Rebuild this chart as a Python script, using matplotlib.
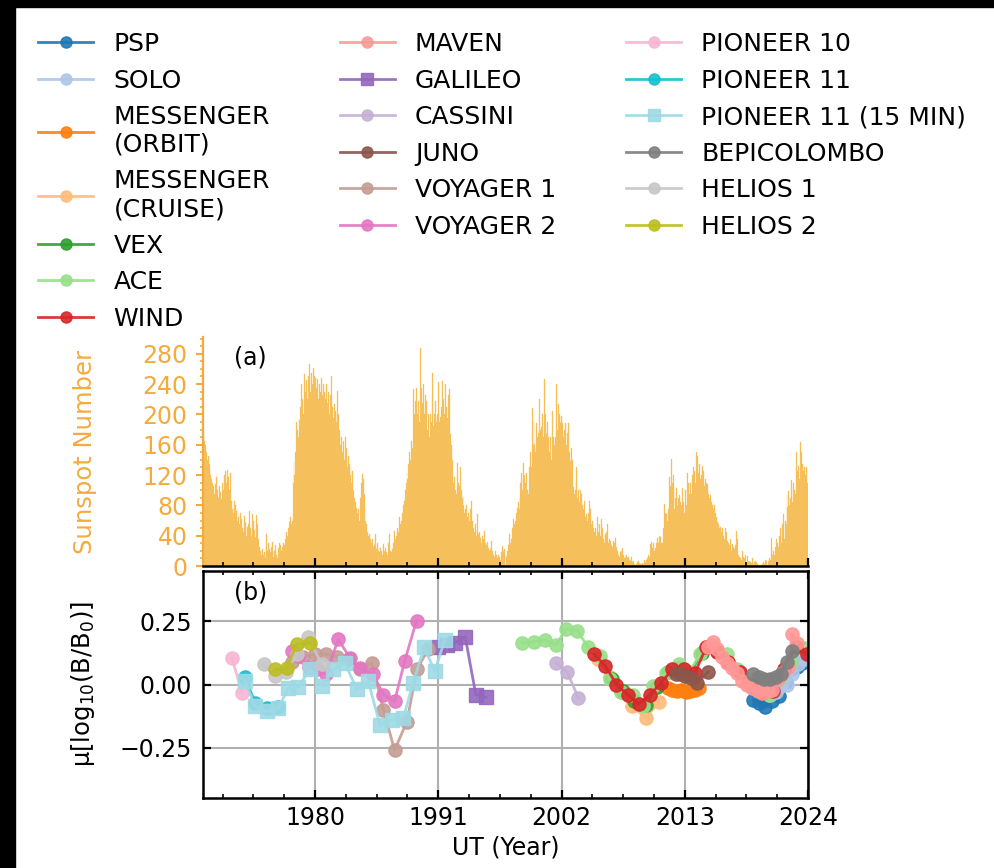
import matplotlib

matplotlib.use("Agg")
import matplotlib.pyplot as plt
import numpy as np
from matplotlib.lines import Line2D
from matplotlib.patches import Rectangle
from matplotlib.ticker import FixedLocator, MultipleLocator

# monthly sunspot number, one row per year from 1970 to 2023
SSN_FIRST_YEAR = 1970
SSN_MONTHLY = [
    [178, 165, 160, 150, 140, 145, 135, 128, 120, 115, 110, 105],
    [95, 108, 117, 100, 90, 105, 98, 88, 110, 100, 92, 120],
    [125, 110, 127, 118, 100, 122, 86, 75, 70, 86, 80, 72],
    [60, 77, 65, 55, 70, 62, 50, 45, 66, 58, 40, 52],
    [55, 73, 50, 40, 45, 68, 60, 48, 38, 67, 55, 35],
    [25, 20, 15, 22, 14, 18, 10, 25, 42, 20, 30, 22],
    [18, 25, 31, 12, 20, 28, 15, 10, 24, 30, 20, 28],
    [20, 25, 30, 28, 35, 45, 40, 50, 58, 64, 55, 60],
    [110, 138, 120, 150, 190, 180, 170, 192, 210, 240, 220, 200],
    [253, 230, 245, 220, 250, 240, 267, 230, 255, 240, 261, 250],
    [248, 235, 246, 220, 240, 230, 248, 225, 210, 240, 230, 220],
    [240, 215, 230, 200, 225, 250, 210, 195, 214, 205, 190, 200],
    [231, 200, 180, 160, 170, 150, 165, 140, 170, 155, 130, 145],
    [134, 120, 130, 110, 125, 100, 90, 85, 77, 70, 75, 60],
    [90, 110, 121, 115, 95, 80, 59, 55, 45, 40, 42, 35],
    [30, 35, 25, 28, 42, 22, 30, 20, 25, 18, 24, 20],
    [15, 29, 20, 24, 18, 15, 30, 42, 20, 18, 22, 25],
    [30, 46, 35, 40, 50, 45, 64, 55, 60, 70, 80, 86],
    [100, 110, 123, 115, 135, 150, 140, 165, 155, 233, 200, 218],
    [235, 200, 218, 190, 287, 210, 235, 215, 240, 200, 225, 218],
    [180, 200, 170, 200, 190, 255, 185, 200, 170, 218, 190, 200],
    [242, 190, 196, 210, 244, 220, 200, 240, 210, 195, 225, 200],
    [233, 174, 160, 140, 110, 117, 100, 95, 136, 110, 105, 130],
    [100, 90, 94, 80, 70, 75, 81, 65, 70, 60, 75, 86],
    [60, 50, 45, 55, 40, 48, 68, 42, 45, 37, 30, 40],
    [35, 46, 30, 28, 32, 24, 20, 22, 25, 33, 20, 15],
    [12, 20, 15, 10, 15, 12, 8, 18, 26, 20, 22, 16],
    [15, 12, 20, 28, 42, 30, 35, 50, 62, 55, 60, 70],
    [77, 84, 75, 90, 110, 123, 100, 136, 120, 110, 123, 100],
    [95, 130, 150, 130, 209, 160, 191, 161, 150, 189, 170, 175],
    [220, 180, 183, 200, 170, 247, 200, 174, 190, 157, 170, 150],
    [170, 140, 204, 170, 160, 170, 240, 180, 214, 200, 190, 198],
    [198, 189, 170, 180, 189, 160, 175, 189, 150, 138, 155, 140],
    [104, 95, 100, 110, 130, 90, 100, 85, 100, 95, 80, 75],
    [86, 65, 68, 60, 70, 86, 65, 75, 55, 60, 50, 45],
    [50, 40, 64, 45, 55, 40, 62, 50, 35, 40, 30, 42],
    [45, 55, 30, 35, 33, 28, 25, 33, 30, 37, 25, 20],
    [20, 15, 12, 18, 20, 24, 15, 10, 12, 15, 10, 12],
    [8, 6, 12, 8, 5, 6, 2, 1, 3, 5, 6, 4],
    [3, 2, 4, 2, 8, 5, 6, 8, 10, 15, 12, 29],
    [31, 24, 30, 20, 24, 30, 37, 30, 40, 35, 38, 30],
    [30, 50, 82, 70, 68, 60, 75, 117, 105, 141, 110, 120],
    [101, 75, 90, 103, 80, 90, 93, 85, 80, 103, 85, 70],
    [100, 80, 123, 95, 110, 95, 110, 95, 120, 130, 125, 110],
    [150, 145, 123, 135, 115, 120, 110, 132, 125, 105, 115, 110],
    [108, 95, 90, 93, 85, 80, 75, 80, 70, 65, 60, 58],
    [55, 50, 52, 45, 50, 40, 35, 50, 45, 33, 30, 28],
    [35, 30, 20, 29, 25, 22, 28, 46, 35, 15, 12, 10],
    [8, 20, 12, 10, 11, 15, 3, 13, 5, 6, 5, 4],
    [11, 3, 5, 6, 5, 2, 1, 1, 1, 1, 1, 2],
    [5, 3, 8, 6, 1, 6, 11, 8, 37, 15, 24, 20],
    [15, 25, 35, 30, 25, 40, 50, 30, 55, 68, 35, 60],
    [55, 94, 78, 99, 80, 90, 114, 85, 110, 100, 95, 150],
    [125, 132, 115, 163, 140, 150, 134, 125, 130, 120, 130, 110],
]

# mean log10(B/B0) per mission
PSP_T = [2019.1, 2019.6, 2020.2, 2020.8, 2021.4, 2022.0, 2022.5, 2023.0, 2023.5, 2023.9]
PSP_MU = [-0.06, -0.075, -0.09, -0.065, -0.045, 0.01, 0.06, 0.07, 0.085, 0.1]
SOLO_T = [2020.6, 2021.1, 2021.6, 2022.1, 2022.6, 2023.1, 2023.6]
SOLO_MU = [-0.04, -0.03, -0.005, 0.0, 0.04, 0.08, 0.1]
MESS_ORBIT_T = [2011.5, 2011.9, 2012.3, 2012.7, 2013.1, 2013.5, 2013.9, 2014.3]
MESS_ORBIT_MU = [-0.015, -0.02, -0.025, -0.02, -0.03, -0.025, -0.02, -0.015]
MESS_CRUISE_T = [2005.3, 2006.3, 2007.3, 2008.3, 2009.5, 2010.7]
MESS_CRUISE_MU = [0.1, 0.03, -0.03, -0.085, -0.133, -0.07]
VEX_T = [2006.5, 2007.5, 2008.5, 2009.5, 2010.5, 2011.5, 2012.5, 2013.5, 2014.5]
VEX_MU = [0.02, -0.025, -0.065, -0.08, -0.01, 0.05, 0.065, 0.045, 0.125]
ACE_T = [1998.5, 1999.5, 2000.5, 2001.5, 2002.4, 2003.4, 2004.4, 2005.4, 2006.3,
         2007.3, 2008.4, 2009.3, 2010.2, 2011.3, 2012.5, 2013.4, 2014.4, 2015.4,
         2016.8, 2017.7, 2018.6, 2019.5, 2020.5, 2021.4, 2022.5, 2023.6]
ACE_MU = [0.164, 0.169, 0.178, 0.156, 0.22, 0.213, 0.147, 0.113, 0.02,
          -0.03, -0.04, -0.087, -0.007, 0.046, 0.08, 0.05, 0.12, 0.155,
          0.12, 0.06, 0.01, -0.015, -0.04, 0.02, 0.09, 0.145]
WIND_T = [2004.9, 2005.9, 2006.9, 2007.9, 2008.9, 2009.9, 2010.9, 2011.9, 2012.9, 2013.9,
          2014.9, 2015.9, 2016.9, 2017.9, 2018.9, 2019.9, 2020.9, 2021.9, 2022.9, 2023.9]
WIND_MU = [0.12, 0.075, 0.0, -0.04, -0.078, -0.04, 0.007, 0.06, 0.06, 0.045,
           0.147, 0.13, 0.09, 0.05, 0.0, -0.035, -0.025, 0.06, 0.15, 0.12]
MAVEN_T = [2015.1, 2015.5, 2015.9, 2016.3, 2016.8, 2017.2, 2017.7, 2018.1, 2018.6, 2019.0,
           2019.5, 2019.9, 2020.4, 2020.8, 2021.3, 2021.7, 2022.2, 2022.6, 2023.0]
MAVEN_MU = [0.15, 0.17, 0.14, 0.11, 0.087, 0.065, 0.046, 0.015, 0.0, -0.015,
            -0.027, -0.033, -0.027, -0.02, 0.02, 0.045, 0.07, 0.2, 0.165]
GALILEO_T = [1991.0, 1991.8, 1992.5, 1993.4, 1994.35, 1995.25]
GALILEO_MU = [0.15, 0.155, 0.165, 0.19, -0.04, -0.05]
CASSINI_T = [2001.5, 2002.5, 2003.5]
CASSINI_MU = [0.086, 0.05, -0.053]
JUNO_T = [2012.2, 2012.6, 2013.05, 2013.6, 2014.1, 2015.1]
JUNO_MU = [0.04, 0.04, 0.033, 0.027, 0.007, 0.05]
VOYAGER1_T = [1977.9, 1978.9, 1980.0, 1981.0, 1982.0, 1983.0, 1984.0, 1985.05, 1986.1,
              1987.1, 1988.2, 1989.1, 1990.1]
VOYAGER1_MU = [0.09, 0.11, 0.12, 0.12, 0.11, 0.1, 0.06, 0.086, -0.1,
               -0.26, -0.147, 0.06, 0.14]
VOYAGER2_T = [1977.9, 1978.5, 1979.5, 1980.2, 1981.0, 1982.07, 1983.1, 1984.0, 1985.2,
              1986.1, 1987.1, 1988.0, 1989.06]
VOYAGER2_MU = [0.133, 0.113, 0.07, 0.06, 0.04, 0.18, 0.106, 0.066, 0.04,
               -0.04, -0.067, 0.093, 0.253]
PIONEER10_T = [1972.57, 1973.5]
PIONEER10_MU = [0.106, -0.035]
PIONEER11_T = [1973.76, 1974.65, 1975.69, 1976.73]
PIONEER11_MU = [0.03, -0.075, -0.095, -0.09]
PIONEER11_15_T = [1973.76, 1974.65, 1975.69, 1976.73, 1977.62, 1978.51, 1979.55, 1980.65,
                  1981.63, 1982.67, 1983.71, 1984.75, 1985.79, 1986.83, 1987.87, 1988.76,
                  1989.74, 1990.69, 1991.58]
PIONEER11_15_MU = [0.013, -0.087, -0.107, -0.094, -0.013, -0.01, 0.06, -0.006,
                   0.06, 0.084, -0.017, 0.013, -0.16, -0.14, -0.133, 0.007,
                   0.147, 0.053, 0.177]
BEPI_T = [2019.1, 2019.6, 2020.1, 2020.6, 2021.1, 2021.6, 2022.1, 2022.6]
BEPI_MU = [0.04, 0.03, 0.02, 0.02, 0.03, 0.04, 0.09, 0.133]
HELIOS1_T = [1975.4, 1976.4, 1977.4, 1978.4, 1979.4, 1980.6]
HELIOS1_MU = [0.08, 0.035, 0.05, 0.12, 0.187, 0.08]
HELIOS2_T = [1976.43, 1977.47, 1978.36, 1979.55]
HELIOS2_MU = [0.06, 0.066, 0.16, 0.164]

# tab20 slots used for each mission, in legend order
TAB20_SLOTS = [0, 1, 2, 3, 4, 5, 6, 7, 8, 9, 10, 11, 12, 13, 18, 19, 14, 15, 16]

YEAR_TICKS = [1980, 1991, 2002, 2013, 2024]

SUN_FILL = "#f5b94a"
SUN_TEXT = "#f5ab3c"


def main() -> None:
    plt.rcParams["font.family"] = "DejaVu Sans"

    ssn = np.array(SSN_MONTHLY, dtype=float).ravel()
    ssn_t = SSN_FIRST_YEAR + (np.arange(ssn.size) + 0.5) / 12.0

    series = [
        ("PSP", PSP_T, PSP_MU, "o"),
        ("SOLO", SOLO_T, SOLO_MU, "o"),
        ("MESSENGER\n(ORBIT)", MESS_ORBIT_T, MESS_ORBIT_MU, "o"),
        ("MESSENGER\n(CRUISE)", MESS_CRUISE_T, MESS_CRUISE_MU, "o"),
        ("VEX", VEX_T, VEX_MU, "o"),
        ("ACE", ACE_T, ACE_MU, "o"),
        ("WIND", WIND_T, WIND_MU, "o"),
        ("MAVEN", MAVEN_T, MAVEN_MU, "o"),
        ("GALILEO", GALILEO_T, GALILEO_MU, "s"),
        ("CASSINI", CASSINI_T, CASSINI_MU, "o"),
        ("JUNO", JUNO_T, JUNO_MU, "o"),
        ("VOYAGER 1", VOYAGER1_T, VOYAGER1_MU, "o"),
        ("VOYAGER 2", VOYAGER2_T, VOYAGER2_MU, "o"),
        ("PIONEER 10", PIONEER10_T, PIONEER10_MU, "o"),
        ("PIONEER 11", PIONEER11_T, PIONEER11_MU, "o"),
        ("PIONEER 11 (15 MIN)", PIONEER11_15_T, PIONEER11_15_MU, "s"),
        ("BEPICOLOMBO", BEPI_T, BEPI_MU, "o"),
        ("HELIOS 1", HELIOS1_T, HELIOS1_MU, "o"),
        ("HELIOS 2", HELIOS2_T, HELIOS2_MU, "o"),
    ]
    colors = [plt.cm.tab20(i) for i in TAB20_SLOTS]

    fig = plt.figure(figsize=(9.95, 8.68), dpi=100)
    W, H = 995.0, 868.0
    ax_a = fig.add_axes([203 / W, (H - 566) / H, 605 / W, 229 / H])
    ax_b = fig.add_axes([203 / W, (H - 798) / H, 605 / W, 227 / H])

    # (a) sunspot number
    ax_a.bar(ssn_t, ssn, width=1.0 / 12.0, color=SUN_FILL, edgecolor="#f7c872",
             linewidth=0.25)
    ax_a.set_xlim(1970, 2024)
    ax_a.set_ylim(0, 302)
    ax_a.spines["top"].set_visible(False)
    ax_a.spines["right"].set_visible(False)
    ax_a.spines["left"].set_color(SUN_TEXT)
    ax_a.spines["left"].set_linewidth(1.6)
    ax_a.spines["bottom"].set_linewidth(1.8)
    ax_a.yaxis.set_major_locator(MultipleLocator(40))
    ax_a.yaxis.set_minor_locator(MultipleLocator(10))
    ax_a.xaxis.set_major_locator(FixedLocator(YEAR_TICKS))
    ax_a.xaxis.set_minor_locator(MultipleLocator(2.75))
    ax_a.tick_params(axis="y", which="both", colors=SUN_TEXT, labelsize=17, pad=6)
    ax_a.tick_params(axis="y", which="major", length=5, width=1.5)
    ax_a.tick_params(axis="y", which="minor", length=2.5, width=1.2)
    ax_a.tick_params(axis="x", which="both", direction="in", labelbottom=False)
    ax_a.tick_params(axis="x", which="major", length=6, width=1.6)
    ax_a.tick_params(axis="x", which="minor", length=3, width=1.2)
    ax_a.set_ylabel("Sunspot Number", color=SUN_TEXT, fontsize=17.5)
    ax_a.yaxis.set_label_coords(-0.175, 0.5)
    ax_a.text(0.078, 0.91, "(a)", transform=ax_a.transAxes, fontsize=17,
              ha="center", va="center")

    # (b) mean field strength per mission
    handles = []
    for (label, t, mu, marker), color in zip(series, colors):
        ax_b.plot(t, mu, marker=marker, color=color, ms=9.5, lw=2.0, alpha=0.9)
        handles.append(Line2D([0], [0], marker=marker, color=color, ms=8, lw=2.0,
                              alpha=0.9, label=label))

    ax_b.set_xlim(1970, 2024)
    ax_b.set_ylim(-0.45, 0.45)
    ax_b.xaxis.set_major_locator(FixedLocator(YEAR_TICKS))
    ax_b.xaxis.set_minor_locator(MultipleLocator(2.75))
    ax_b.yaxis.set_major_locator(FixedLocator([-0.25, 0.0, 0.25]))
    ax_b.yaxis.set_major_formatter(plt.FuncFormatter(lambda v, _: f"{v:.2f}".replace("-", "\u2212")))
    ax_b.grid(True, which="major", color="#b0b0b0", lw=1.5)
    ax_b.set_axisbelow(True)
    for spine in ax_b.spines.values():
        spine.set_linewidth(1.8)
    ax_b.tick_params(which="both", direction="in", top=True, right=True, labelsize=17)
    ax_b.tick_params(which="major", length=5.5, width=1.6)
    ax_b.tick_params(which="minor", length=3, width=1.2)
    ax_b.tick_params(axis="y", pad=8)
    ax_b.tick_params(axis="x", pad=6)
    ax_b.set_xlabel("UT (Year)", fontsize=17)
    ax_b.set_ylabel(r"μ[log$_{10}$(B/B$_0$)]", fontsize=17.5)
    ax_b.yaxis.set_label_coords(-0.175, 0.5)
    ax_b.text(0.078, 0.906, "(b)", transform=ax_b.transAxes, fontsize=17,
              ha="center", va="center")

    fig.legend(handles=handles, ncol=3, loc="upper left",
               bbox_to_anchor=(0.016, 0.989), frameon=False, fontsize=18,
               handlelength=2.2, handletextpad=0.8, columnspacing=2.8,
               labelspacing=0.5)

    # dark border strips present in the reference screenshot
    fig.add_artist(Rectangle((0, 1 - 7 / H), 1, 7 / H, transform=fig.transFigure,
                             color="black", zorder=10))
    fig.add_artist(Rectangle((0, 0), 15 / W, 1, transform=fig.transFigure,
                             color="black", zorder=10))

    fig.savefig("out.png", dpi=100)
    plt.close(fig)


if __name__ == "__main__":
    main()
